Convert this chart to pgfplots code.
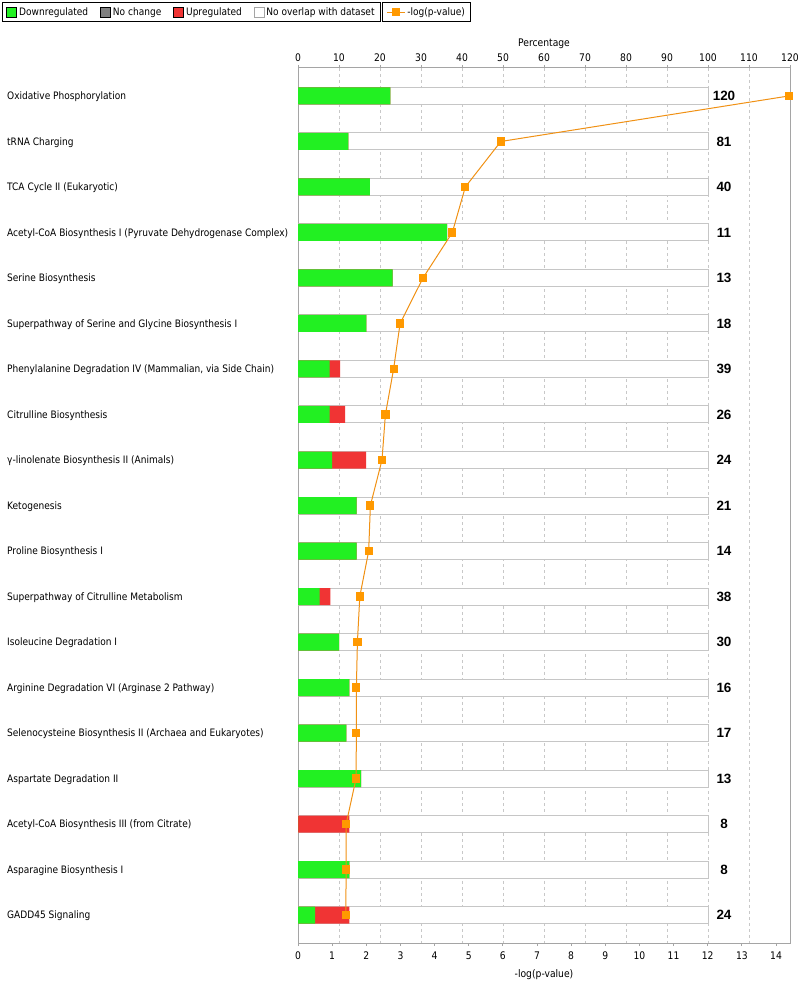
\documentclass[border=0pt]{standalone}
\usepackage{pgfplots}
\pgfplotsset{compat=1.18}
\usepackage{pgfplotstable}
\usepackage{fontspec}
\setmainfont{DejaVu Sans}[FakeStretch=0.88]
\newfontfamily\numfont{Liberation Sans}

\definecolor{downgreen}{RGB}{34,240,34}
\definecolor{upred}{RGB}{240,52,52}
\definecolor{nochg}{RGB}{128,128,128}
\definecolor{lineorange}{RGB}{240,145,20}
\definecolor{markorange}{RGB}{255,153,0}
\definecolor{framegray}{RGB}{165,165,165}
\definecolor{boxgray}{RGB}{198,198,198}
\definecolor{gridgray}{RGB}{200,200,200}

\newcommand{\labfont}{\fontsize{10.3}{12}\selectfont}
\newcommand{\tickfont}{\fontsize{10.5}{12}\selectfont}
\newcommand{\cntfont}{\numfont\bfseries\fontsize{13.5}{15}\selectfont}

% y = row (top to bottom), green/red = percent of pathway, n = molecules, p = -log(p-value)
\pgfplotstableread{
y green red n p
1 22.5 0 120 14.37
2 12.3 0 81 5.94
3 17.5 0 40 4.90
4 36.4 0 11 4.52
5 23.1 0 13 3.66
6 16.7 0 18 2.99
7 7.7 2.6 39 2.80
8 7.7 3.8 26 2.56
9 8.3 8.3 24 2.46
10 14.3 0 21 2.12
11 14.3 0 14 2.07
12 5.3 2.6 38 1.81
13 10.0 0 30 1.74
14 12.5 0 16 1.71
15 11.8 0 17 1.71
16 15.4 0 13 1.70
17 0 12.5 8 1.41
18 12.5 0 8 1.41
19 4.2 8.3 24 1.40
}\data

\pgfplotsset{
  common/.style={
    at={(298bp,43bp)}, anchor=south west,
    width=492bp, height=875bp, scale only axis,
    ymin=0.385, ymax=19.615, y dir=reverse,
    /pgf/number format/assume math mode=true,
    tick align=outside, major tick length=3bp,
    tick style={framegray, line width=0.8bp},
    axis line style={framegray, line width=1bp},
    ticklabel style={font=\tickfont},
    label style={font=\tickfont},
  },
  sqlegend/.style={legend image code/.code={\draw[##1] (0bp,-5bp) rectangle (10bp,5bp);}},
}

\begin{document}
\begin{tikzpicture}
\useasboundingbox (0,0) rectangle (800bp,986bp);

\begin{axis}[common,
  xmin=0, xmax=120, xtick={0,10,...,120},
  xtick pos=upper, xticklabel pos=upper,
  xlabel={Percentage}, xlabel style={yshift=-2bp},
  xmajorgrids, grid style={gridgray, dashed, line width=0.6bp},
  ytick={1,...,19}, ytick style={draw=none},
  yticklabels={
    Oxidative Phosphorylation,
    tRNA Charging,
    TCA Cycle II (Eukaryotic),
    Acetyl-CoA Biosynthesis I (Pyruvate Dehydrogenase Complex),
    Serine Biosynthesis,
    Superpathway of Serine and Glycine Biosynthesis I,
    {Phenylalanine Degradation IV (Mammalian, via Side Chain)},
    Citrulline Biosynthesis,
    γ-linolenate Biosynthesis II (Animals),
    Ketogenesis,
    Proline Biosynthesis I,
    Superpathway of Citrulline Metabolism,
    Isoleucine Degradation I,
    Arginine Degradation VI (Arginase 2 Pathway),
    Selenocysteine Biosynthesis II (Archaea and Eukaryotes),
    Aspartate Degradation II,
    Acetyl-CoA Biosynthesis III (from Citrate),
    Asparagine Biosynthesis I,
    GADD45 Signaling},
  yticklabel style={anchor=west, inner sep=0pt, xshift=-288bp, yshift=-1bp, font=\labfont},
  legend columns=4,
  legend cell align=left,
  legend style={at={(-0.6016,1.0754)}, anchor=north west, draw=black,
    line width=0.8bp, inner xsep=4bp, inner ysep=3bp, font=\labfont,
    /tikz/every even column/.append style={column sep=10bp}},
  sqlegend,
]
\addlegendimage{fill=downgreen, draw=none}
\addlegendimage{fill=nochg, draw=none}
\addlegendimage{fill=upred, draw=none}
\addlegendimage{fill=white, draw=framegray, line width=0.6bp}
\legend{Downregulated, No change, Upregulated, No overlap with dataset}

\addplot[forget plot, xbar, bar width=17bp, bar shift=0pt, fill=white, draw=boxgray, line width=1bp]
  table[x expr=100, y=y] {\data};
\addplot[forget plot, xbar, bar width=17bp, bar shift=0pt, fill=upred, draw=none]
  table[x expr=\thisrow{green}+\thisrow{red}, y=y] {\data};
\addplot[forget plot, xbar, bar width=17bp, bar shift=0pt, fill=downgreen, draw=none]
  table[x=green, y=y] {\data};
\addplot[forget plot, draw=none, mark=none, nodes near coords, point meta=explicit symbolic,
  nodes near coords style={anchor=center, font=\cntfont}]
  table[x expr=103.9, y=y, meta=n] {\data};
\end{axis}

\begin{axis}[common,
  xmin=0, xmax=14.41, xtick={0,...,14},
  axis x line*=bottom, axis y line=none,
  xticklabel shift=2bp,
  xlabel={-log(p-value)}, xlabel style={yshift=-3bp},
  legend style={at={(0.1707,1.0754)}, anchor=north west, draw=black,
    line width=0.8bp, inner xsep=4bp, inner ysep=3bp, font=\labfont},
  legend image code/.code={\draw[mark repeat=2, mark phase=2, #1] plot coordinates {(0bp,0bp) (9bp,0bp) (18bp,0bp)};},
]
\addplot[lineorange, line width=1bp, mark=square*, mark size=3.6bp,
  mark options={fill=markorange, draw=markorange, line width=0pt}]
  table[x=p, y=y] {\data};
\legend{-log(p-value)}
\end{axis}
\end{tikzpicture}
\end{document}
